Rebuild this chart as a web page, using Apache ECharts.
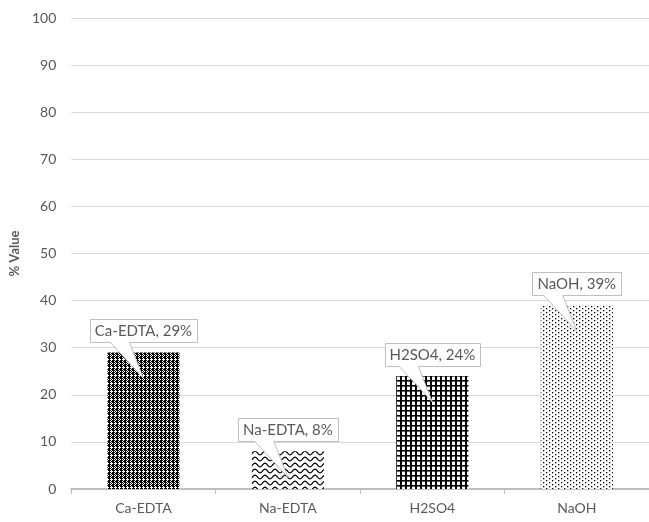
<!DOCTYPE html>
<html>
<head>
<meta charset="utf-8">
<script src="https://cdn.jsdelivr.net/npm/echarts@6/dist/echarts.min.js"></script>
<style>
  html, body { margin: 0; padding: 0; background: #ffffff; }
  #chart { width: 649px; height: 522px; }
</style>
</head>
<body>
<div id="chart"></div>
<script>
// Treatments and their percentage values
const categories = ['Ca-EDTA', 'Na-EDTA', 'H2SO4', 'NaOH'];
const values = [29, 8, 24, 39];
const yTicks = { min: 0, max: 100, interval: 10 };

const FONT = 'Lato, "Open Sans", "Liberation Sans", sans-serif';
const TEXT_COLOR = '#595959';

// --- hatch fills for the bars -------------------------------------------
function tile(w, h, draw) {
  const c = document.createElement('canvas');
  c.width = w; c.height = h;
  const g = c.getContext('2d');
  g.fillStyle = '#ffffff';
  g.fillRect(0, 0, w, h);
  g.fillStyle = '#000000';
  g.strokeStyle = '#000000';
  draw(g, w, h);
  return { image: c, repeat: 'repeat' };
}

// fine weave / checker
const weave = tile(8, 8, (g) => {
  for (let y = 0; y < 8; y++) {
    for (let x = 0; x < 8; x++) {
      let on = (x + y) % 2 === 0;
      if (x % 4 === 0 || x % 4 === 1) on = on || (y % 4 !== 3);
      if (y === 7 && x % 4 > 1) on = false;
      if (on) g.fillRect(x, y, 1, 1);
    }
  }
});

// horizontal waves
const waves = tile(10, 6, (g) => {
  g.lineWidth = 1.2;
  g.beginPath();
  for (let x = -1; x <= 11; x += 0.5) {
    const y = 3 + 1.8 * Math.cos((x / 10) * Math.PI * 2);
    if (x === -1) g.moveTo(x, y); else g.lineTo(x, y);
  }
  g.stroke();
});

// heavy grid
const grid = tile(5, 5, (g) => {
  g.fillRect(0, 0, 2, 5);
  g.fillRect(0, 0, 5, 1.6);
});

// sparse dots
const dots = tile(6, 4, (g) => {
  g.fillRect(0, 0, 1.3, 1.3);
  g.fillRect(3, 2, 1.3, 1.3);
});

const fills = [weave, waves, grid, dots];

// --- callout label drawn on top of each bar -----------------------------
const measureCtx = document.createElement('canvas').getContext('2d');
const LABEL_SIZE = 15;
measureCtx.font = LABEL_SIZE + 'px ' + FONT;

function renderCallout(params, api) {
  const idx = api.value(0);
  const v = api.value(1);
  const p = api.coord([idx, v]);
  const cx = p[0], top = p[1];
  const text = categories[idx] + ', ' + v + '%';
  const tw = measureCtx.measureText(text).width;
  const padX = 5;
  const boxW = tw + padX * 2;
  const L = Math.round(cx - boxW / 2) + 0.5;
  const R = Math.round(cx + boxW / 2) + 0.5;
  const B = Math.round(top - 10) + 0.5;
  const T = B - 23;
  const b1 = cx - 33, b2 = cx - 14;
  const tipX = cx, tipY = top + 26;
  return {
    type: 'group',
    children: [
      {
        type: 'polygon',
        shape: { points: [[L, T], [R, T], [R, B], [b2, B], [tipX, tipY], [b1, B], [L, B]] },
        style: { fill: '#ffffff', stroke: '#bfbfbf', lineWidth: 1 }
      },
      {
        type: 'text',
        style: {
          x: cx, y: (T + B) / 2 + 0.5,
          text: text,
          fill: TEXT_COLOR,
          font: LABEL_SIZE + 'px ' + FONT,
          textAlign: 'center', textVerticalAlign: 'middle'
        }
      }
    ]
  };
}

const chart = echarts.init(document.getElementById('chart'), null, { renderer: 'canvas' });

chart.setOption({
  animation: false,
  backgroundColor: '#ffffff',
  grid: { left: 71, right: -2, top: 18, bottom: 33, containLabel: false },
  xAxis: {
    type: 'category',
    data: categories,
    axisLine: { lineStyle: { color: '#bfbfbf', width: 2 } },
    axisTick: { show: true, length: 5, alignWithLabel: false, lineStyle: { color: '#bfbfbf', width: 1 } },
    axisLabel: { color: TEXT_COLOR, fontSize: 14, fontFamily: FONT, margin: 12 },
    splitLine: { show: false }
  },
  yAxis: {
    type: 'value',
    min: yTicks.min, max: yTicks.max, interval: yTicks.interval,
    name: '% Value',
    nameLocation: 'middle',
    nameGap: 50,
    nameRotate: 90,
    nameTextStyle: { color: TEXT_COLOR, fontSize: 13, fontWeight: 'bold', fontFamily: FONT },
    axisLine: { show: false },
    axisTick: { show: false },
    axisLabel: { color: TEXT_COLOR, fontSize: 14, fontFamily: FONT, margin: 15 },
    splitLine: { lineStyle: { color: '#d9d9d9', width: 1 } }
  },
  series: [
    {
      type: 'bar',
      barWidth: '50%',
      data: values.map((v, i) => ({ value: v, itemStyle: { color: fills[i] } })),
      z: 2
    },
    {
      type: 'custom',
      renderItem: renderCallout,
      data: values.map((v, i) => [i, v]),
      z: 5,
      silent: true
    }
  ]
});
</script>
</body>
</html>
